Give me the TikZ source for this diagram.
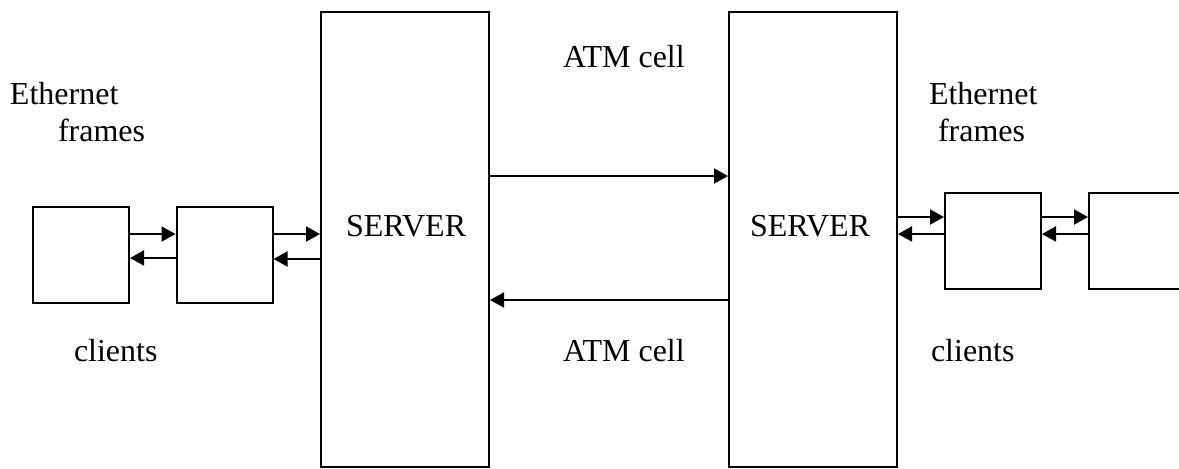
\documentclass[tikz,border=0pt]{standalone}
\usepackage{fontspec}
\setmainfont{Liberation Serif}
\usetikzlibrary{arrows.meta}

\begin{document}
\begin{tikzpicture}[x=0.5pt, y=-0.5pt, line width=1pt, >={Triangle[length=7pt,width=7.5pt]},
    server/.style={draw, inner sep=0pt, minimum width=84pt, minimum height=227.5pt},
    client/.style={draw, inner sep=0pt, minimum width=48pt, minimum height=48pt},
    txt/.style={font=\fontsize{16}{19}\selectfont, inner sep=0pt, anchor=base west}]

    \useasboundingbox (0,0) rectangle (1179,468);
    \clip (0,0) rectangle (1179,468);

    % Servers
    \node[server] (srvA) at (405,239.5) {};
    \node[server] (srvB) at (813,239.5) {};
    \node[txt] (srvAtxt) at (345,236) {SERVER};
    \node[txt] (srvBtxt) at (749,236) {SERVER};

    % Clients
    \node[client] (cliA1) at (81,254.7) {};
    \node[client] (cliA2) at (224.5,254.7) {};
    \node[client] (cliB1) at (993,240.5) {};
    \node[client] (cliB2) at (1137,240.5) {};

    % Links on the left
    \draw[->] (cliA1.east |- 0,234) -- (cliA2.west |- 0,234);
    \draw[<-] (cliA1.east |- 0,258) -- (cliA2.west |- 0,258);
    \draw[->] (cliA2.east |- 0,234) -- (srvA.west |- 0,234);
    \draw[<-] (cliA2.east |- 0,259) -- (srvA.west |- 0,259);

    % ATM links between the servers
    \draw[->] (srvA.east |- 0,176) -- (srvB.west |- 0,176);
    \draw[<-] (srvA.east |- 0,300) -- (srvB.west |- 0,300);

    % Links on the right
    \draw[->] (srvB.east |- 0,217) -- (cliB1.west |- 0,217);
    \draw[<-] (srvB.east |- 0,234) -- (cliB1.west |- 0,234);
    \draw[->] (cliB1.east |- 0,217) -- (cliB2.west |- 0,217);
    \draw[<-] (cliB1.east |- 0,234) -- (cliB2.west |- 0,234);

    % Labels
    \node[txt] (ethA) at (9,104) {Ethernet};
    \node[txt] (frmA) at (57,141) {frames};
    \node[txt] (cltA) at (73,361) {clients};
    \node[txt] (atmUp) at (562,67) {ATM cell};
    \node[txt] (atmDn) at (562,361) {ATM cell};
    \node[txt] (ethB) at (928,104) {Ethernet};
    \node[txt] (frmB) at (937,141) {frames};
    \node[txt] (cltB) at (930,361) {clients};

\end{tikzpicture}
\end{document}
